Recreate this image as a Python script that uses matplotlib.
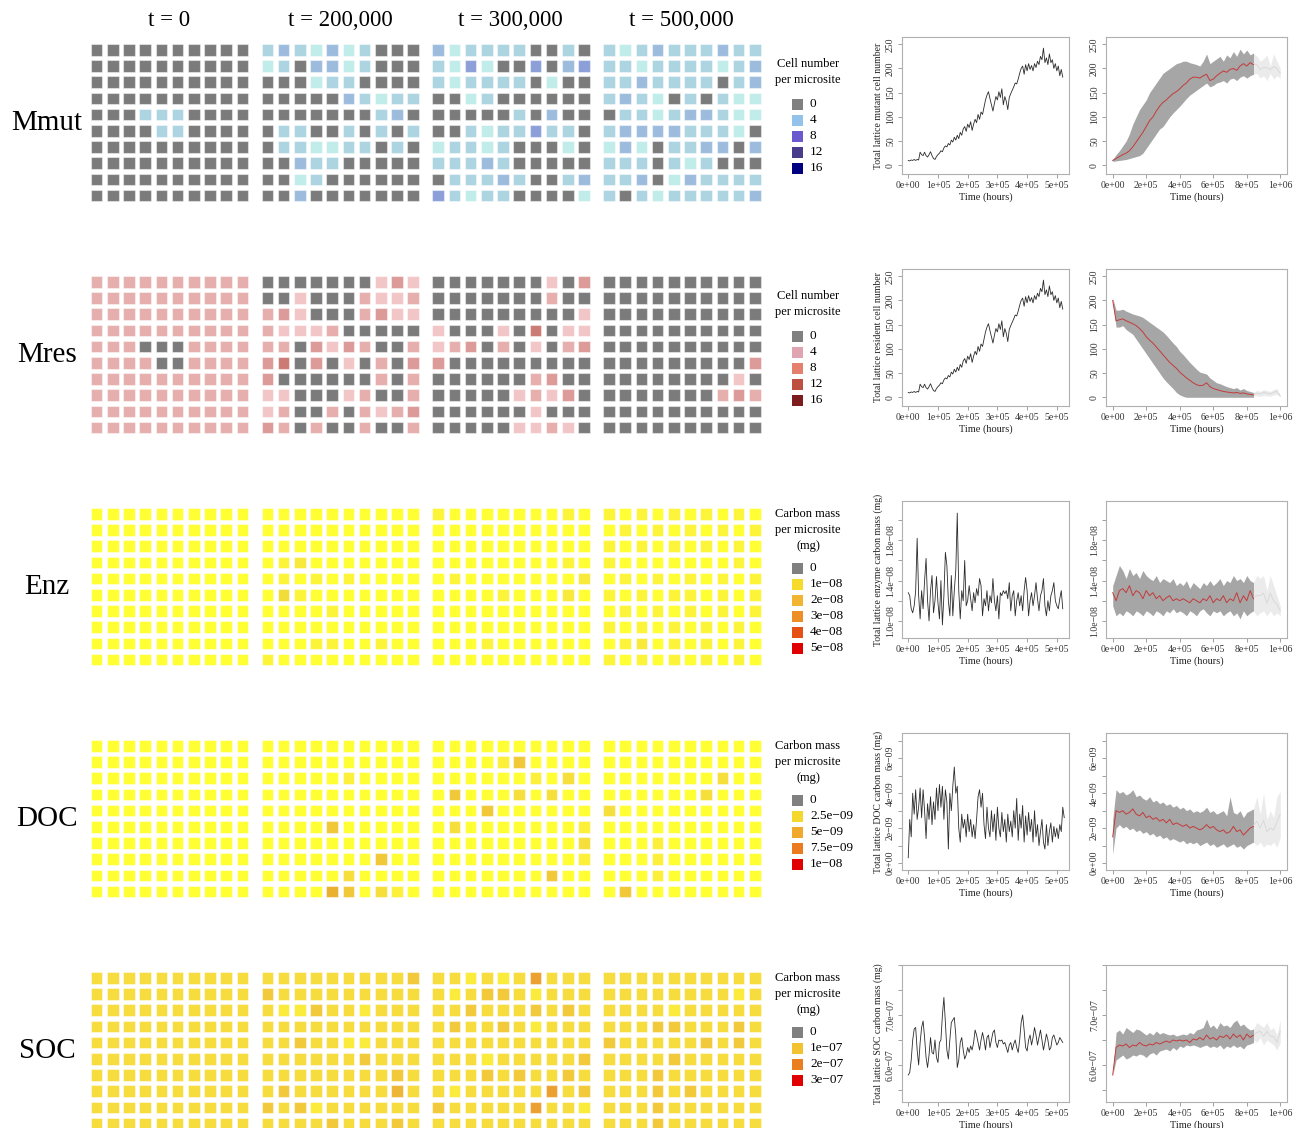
import numpy as np
import matplotlib
matplotlib.use("Agg")
import matplotlib.pyplot as plt
from matplotlib.patches import Rectangle

plt.rcParams['font.family'] = ['Liberation Serif', 'DejaVu Serif']

# ---------------------------------------------------------------- data
row_names = ["Mmut", "Mres", "Enz", "DOC", "SOC"]
time_titles = ["t = 0", "t = 200,000", "t = 300,000", "t = 500,000"]

# lattice snapshots: one digit per microsite, indexing the row palette
mmut_grids = [
    ["0000000000", "0000000000", "0000000000", "0000000000", "0002220000",
     "0000220000", "0000000000", "0000000000", "0000000000", "0000000000"],
    ["2321312000", "1203312000", "0001220000", "0000032122", "0000000230",
     "0220020202", "0221122020", "0032200000", "0012000000", "0030000000"],
    ["3122220020", "2141004034", "2122220100", "0012000000", "0000020300",
     "0021224220", "1221200010", "2223200000", "0222320023", "4212200001"],
    ["2123222322", "2212222123", "2232222023", "2321020211", "0221233211",
     "2333322210", "1310223303", "2220212000", "2230132222", "2021222223"],
]
mres_grids = [
    ["2222222222", "2222222222", "2222222222", "2222222222", "2220002222",
     "2222002222", "2222222222", "2222222222", "2222222222", "2222222222"],
    ["0000000131", "0010002112", "2310002311", "2111200000", "2203132002",
     "3403010203", "3000000202", "1100012002", "1200202123", "3202002002"],
    ["0000000103", "0000000200", "0000000001", "1000104011", "1230201023",
     "3000000000", "0000002300", "0000012130", "0000001000", "0000011210"],
    ["0000000000", "0000000000", "0000000000", "0000000000", "0000000000",
     "0000000003", "0000000010", "0000000232", "0000000000", "0000000000"],
]
enz_grids = [
    ["0000000000"] * 10,
    ["0000000000", "0000000000", "0000000000", "0120000000", "0101010000",
     "0310000000", "0000100000", "0000000000", "0001100100", "1000000000"],
    ["1000000010", "0000000000", "0000000000", "0000000010", "0100000002",
     "0000100020", "0000000000", "0000000000", "0001000000", "0000000000"],
    ["1010101010", "0101010101", "1010101010", "1000000010", "0101010101",
     "1010110101", "0101010101", "1010101010", "0120101010", "1010101010"],
]
doc_grids = [
    ["0000000000"] * 10,
    ["0000000000", "0000000000", "0000010000", "0000000000", "0000000000",
     "0000300000", "0000000000", "0000000300", "0000020000", "0000430210"],
    ["0000000000", "0000130000", "0000001020", "0300020200", "0003000000",
     "0200000001", "0000000002", "0000000001", "0000000300", "0000000000"],
    ["0000000000", "0000000000", "0000000200", "0000002000", "2000000000",
     "0000000000", "0001000000", "0001000000", "0001000000", "0300000000"],
]
soc_grids = [
    ["1111111111"] * 10,
    ["1111111112", "2111111111", "1002110111", "1111111111", "1121100111",
     "1111112111", "1111111121", "1211111131", "2120111111", "1111211121"],
    ["1101014111", "1012210111", "1121112121", "1211210111", "1111111111",
     "1110111112", "1112121121", "1011111412", "2111114110", "1111111111"],
    ["1111111111", "1111111101", "1111011111", "1112211121", "2111112121",
     "1111211111", "1112111111", "1112121111", "1112111111", "1112111111"],
]

mmut_palette = ['#7b7b7b', '#c0ece9', '#acd5e1', '#9dbcdd', '#8d9fd9']
mres_palette = ['#7b7b7b', '#f2c6c6', '#e6afae', '#dc9a98', '#cc7a74']
enz_palette = ['#ffff33', '#fcf439', '#f8e93a', '#f2dc38']
doc_palette = ['#ffff33', '#fcf03a', '#f6df3a', '#f0c838', '#eab030']
soc_palette = ['#fbeb3b', '#f6dc3c', '#f1c93a', '#eeb636', '#eba030']

# legends
cell_title = ["Cell number", "per microsite"]
carbon_title = ["Carbon mass", "per microsite", "(mg)"]
mmut_leg_labels = ["0", "4", "8", "12", "16"]
mmut_leg_colors = ['#808080', '#93c3ea', '#6a5acd', '#473d8b', '#000080']
mres_leg_labels = ["0", "4", "8", "12", "16"]
mres_leg_colors = ['#808080', '#e0a3b2', '#e5806f', '#bd5040', '#7d1c1c']
enz_leg_labels = ["0", "1e\u221208", "2e\u221208", "3e\u221208", "4e\u221208", "5e\u221208"]
enz_leg_colors = ['#808080', '#f6da2c', '#f2b532', '#ee8e26', '#e65014', '#e00000']
doc_leg_labels = ["0", "2.5e\u221209", "5e\u221209", "7.5e\u221209", "1e\u221208"]
doc_leg_colors = ['#808080', '#f5d82e', '#f0a92a', '#eb7b1e', '#e00000']
soc_leg_labels = ["0", "1e\u221207", "2e\u221207", "3e\u221207"]
soc_leg_colors = ['#808080', '#f2c230', '#ea7f1f', '#e00000']

# single-run lattice totals, one value every 5,000 hours
run_step = 5000
cells_total = [
    10, 9, 11, 10, 12, 10, 12, 11, 27, 22,
    20, 27, 20, 17, 22, 28, 20, 14, 12, 18,
    22, 25, 30, 28, 36, 40, 38, 45, 42, 52,
    48, 58, 52, 62, 55, 68, 62, 75, 80, 70,
    85, 78, 90, 72, 85, 95, 88, 105, 95, 110,
    105, 120, 135, 145, 152, 138, 125, 112, 128, 142,
    135, 152, 140, 158, 125, 142, 132, 115, 140, 148,
    155, 162, 170, 168, 178, 190, 200, 205, 188, 208,
    195, 210, 198, 206, 195, 210, 202, 215, 208, 225,
    218, 242, 212, 222, 208, 230, 212, 218, 200, 210,
    195, 205, 185, 198, 182]
enz_total = [  # x 1e-8 mg
    1.28, 1.25, 1.12, 1.08, 1.15, 1.30, 1.82, 1.25, 1.02, 1.30,
    1.12, 1.40, 1.62, 1.20, 1.00, 1.30, 1.45, 1.08, 1.20, 1.44,
    1.18, 1.02, 1.40, 0.96, 1.25, 1.68, 1.55, 1.20, 1.05, 1.45,
    1.05, 1.30, 1.50, 2.07, 1.30, 1.02, 1.30, 1.20, 1.60, 1.15,
    1.20, 1.35, 1.22, 1.10, 1.28, 1.18, 1.32, 1.25, 1.42, 1.35,
    1.05, 1.22, 1.15, 1.30, 1.10, 1.25, 1.18, 1.42, 1.20, 1.10,
    1.25, 1.02, 1.28, 1.25, 1.30, 1.27, 1.30, 1.22, 1.38, 1.10,
    1.25, 1.30, 1.05, 1.20, 1.28, 1.15, 1.25, 1.10, 1.30, 1.43,
    1.30, 1.05, 1.20, 1.28, 1.15, 1.25, 1.38, 1.22, 1.10, 1.25,
    1.30, 1.42, 1.15, 1.05, 1.20, 1.10, 1.25, 1.30, 1.38, 1.20,
    1.15, 1.12, 1.22, 1.30, 1.12]
doc_total = [  # x 1e-9 mg
    0.3, 2.5, 1.5, 4.0, 2.8, 4.2, 2.5, 3.2, 4.3, 2.6,
    4.2, 3.0, 1.4, 3.4, 2.5, 3.8, 2.2, 3.5, 2.5, 4.3,
    3.0, 4.5, 3.2, 4.4, 2.5, 4.2, 3.5, 0.8, 4.0, 3.0,
    4.4, 5.5, 4.0, 4.4, 2.0, 1.2, 2.8, 2.0, 2.5, 1.5,
    2.8, 1.8, 2.5, 1.5, 2.2, 1.4, 2.5, 3.8, 4.2, 3.2,
    4.0, 2.2, 1.4, 3.2, 2.0, 1.5, 3.0, 1.8, 2.8, 1.3,
    3.2, 2.0, 1.5, 2.9, 1.8, 2.5, 1.2, 2.8, 1.8, 2.4,
    1.5, 3.0, 2.0, 3.7, 1.3, 2.8, 2.0, 3.3, 1.2, 2.7,
    1.6, 2.9, 1.8, 2.5, 1.2, 3.0, 1.5, 2.2, 1.0, 1.8,
    2.5, 1.2, 0.8, 2.2, 1.0, 1.8, 2.3, 1.2, 2.1, 1.5,
    2.0, 1.4, 2.2, 1.8, 3.2, 2.6]
soc_total = [  # x 1e-7 mg
    5.80, 5.85, 6.10, 6.50, 6.72, 6.75, 6.30, 6.00, 6.45, 6.75,
    6.88, 6.55, 6.15, 5.95, 6.20, 6.55, 6.25, 6.22, 6.50, 6.15,
    6.05, 6.45, 6.50, 7.00, 7.35, 6.85, 6.30, 6.12, 6.50, 6.85,
    6.90, 6.95, 6.60, 5.95, 6.10, 6.45, 6.55, 6.30, 6.12, 6.20,
    6.35, 6.25, 6.38, 6.30, 6.45, 6.70, 6.60, 6.45, 6.30, 6.50,
    6.65, 6.50, 6.30, 6.55, 6.60, 6.35, 6.50, 6.65, 6.70, 6.45,
    6.35, 6.50, 6.48, 6.50, 6.42, 6.45, 6.35, 6.25, 6.40, 6.45,
    6.30, 6.42, 6.50, 6.35, 6.25, 6.50, 6.85, 7.00, 6.70, 6.35,
    6.28, 6.50, 6.60, 6.40, 6.55, 6.75, 6.60, 6.40, 6.55, 6.70,
    6.50, 6.30, 6.45, 6.62, 6.50, 6.30, 6.35, 6.55, 6.60, 6.50,
    6.40, 6.45, 6.55, 6.50, 6.45]

# ensemble summaries, one value every 20,000 hours (mean, lower, upper)
ens_step = 20000
mmut_mean = [10, 14, 18, 22, 25, 30, 38, 48, 58, 68, 80, 92, 100, 112, 122, 130,
             135, 142, 148, 152, 158, 165, 170, 178, 182, 182, 180, 185, 188, 175,
             178, 185, 190, 195, 192, 198, 200, 196, 205, 210, 205, 212, 208]
mmut_low = [8, 9, 10, 11, 12, 14, 16, 18, 20, 25, 35, 45, 55, 65, 75, 80, 90, 100,
            108, 115, 122, 130, 138, 145, 150, 155, 160, 165, 170, 162, 165, 170,
            172, 175, 170, 178, 180, 175, 182, 185, 180, 185, 188]
mmut_high = [12, 22, 30, 40, 50, 65, 85, 100, 115, 125, 135, 150, 160, 170, 180, 190,
             195, 200, 205, 210, 212, 215, 215, 212, 210, 208, 205, 215, 230, 210,
             215, 220, 225, 215, 228, 222, 235, 225, 240, 230, 238, 228, 232]
mres_mean = [200, 158, 160, 162, 158, 155, 152, 148, 142, 135, 125, 118, 112, 104,
             96, 88, 80, 72, 66, 60, 52, 46, 40, 35, 30, 26, 24, 25, 30, 22, 18, 16,
             14, 12, 11, 10, 9, 10, 8, 9, 7, 6, 5]
mres_low = [200, 145, 145, 148, 140, 135, 130, 120, 110, 100, 90, 80, 70, 60, 50, 40,
            32, 25, 18, 10, 5, 2, 0, 0, 0, 0, 0, 0, 0, 0, 0, 0, 0, 0, 0, 0, 0, 0, 0,
            0, 0, 0, 0]
mres_high = [205, 180, 180, 182, 178, 175, 172, 170, 168, 165, 160, 155, 150, 145,
             140, 135, 128, 120, 112, 105, 95, 88, 80, 72, 65, 58, 52, 50, 48, 40, 35,
             30, 28, 25, 22, 20, 18, 20, 15, 18, 14, 12, 10]
enz_mean = [1.28, 1.20, 1.30, 1.32, 1.28, 1.35, 1.25, 1.30, 1.28, 1.22, 1.30, 1.25,
            1.28, 1.22, 1.25, 1.20, 1.23, 1.25, 1.20, 1.22, 1.20, 1.22, 1.20, 1.18,
            1.22, 1.20, 1.18, 1.22, 1.20, 1.25, 1.18, 1.22, 1.20, 1.25, 1.18, 1.22,
            1.20, 1.28, 1.18, 1.25, 1.20, 1.30, 1.22]
enz_low = [1.15, 1.05, 1.08, 1.05, 1.10, 1.08, 1.05, 1.10, 1.08, 1.05, 1.10, 1.08,
           1.05, 1.10, 1.08, 1.05, 1.10, 1.08, 1.12, 1.08, 1.10, 1.08, 1.05, 1.10,
           1.08, 1.05, 1.10, 1.12, 1.08, 1.05, 1.10, 1.08, 1.10, 1.05, 1.08, 1.10,
           1.05, 1.08, 1.02, 1.10, 1.05, 1.08, 1.10]
enz_high = [1.35, 1.45, 1.55, 1.50, 1.42, 1.52, 1.45, 1.48, 1.42, 1.50, 1.45, 1.42,
            1.40, 1.45, 1.38, 1.42, 1.40, 1.38, 1.42, 1.35, 1.38, 1.35, 1.40, 1.32,
            1.38, 1.35, 1.32, 1.38, 1.35, 1.40, 1.35, 1.38, 1.42, 1.35, 1.40, 1.38,
            1.45, 1.40, 1.42, 1.38, 1.45, 1.40, 1.38]
doc_mean = [1.5, 3.0, 2.9, 3.0, 2.8, 2.9, 3.1, 2.8, 2.7, 2.9, 2.6, 2.7, 2.5, 2.6,
            2.4, 2.5, 2.3, 2.5, 2.2, 2.3, 2.2, 2.1, 2.2, 2.0, 2.1, 2.0, 1.9, 2.0,
            2.2, 2.0, 2.1, 1.9, 1.8, 1.9, 1.7, 1.8, 2.1, 1.8, 1.9, 1.6, 1.8, 2.0, 2.1]
doc_low = [0.5, 2.0, 2.2, 2.0, 2.1, 1.9, 2.0, 1.8, 1.9, 1.7, 1.8, 1.6, 1.7, 1.5,
           1.6, 1.4, 1.5, 1.3, 1.4, 1.3, 1.2, 1.3, 1.1, 1.2, 1.1, 1.2, 1.0, 1.1,
           1.2, 1.0, 1.1, 0.9, 1.0, 1.1, 0.9, 1.0, 1.1, 0.9, 1.0, 0.8, 1.0, 1.1, 1.2]
doc_high = [2.5, 4.2, 4.0, 4.1, 3.9, 4.0, 4.2, 3.8, 3.9, 3.7, 3.6, 3.8, 3.5, 3.6,
            3.4, 3.5, 3.3, 3.4, 3.2, 3.3, 3.1, 3.2, 3.0, 3.1, 2.9, 3.0, 2.9, 3.0,
            3.2, 2.9, 3.0, 2.8, 2.9, 3.0, 2.7, 3.8, 2.9, 2.8, 3.0, 2.6, 2.9, 3.0, 3.1]
soc_mean = [5.80, 6.35, 6.40, 6.38, 6.42, 6.35, 6.40, 6.38, 6.45, 6.40, 6.38, 6.42,
            6.40, 6.45, 6.42, 6.45, 6.48, 6.45, 6.50, 6.48, 6.50, 6.48, 6.50, 6.45,
            6.52, 6.50, 6.55, 6.50, 6.60, 6.52, 6.55, 6.50, 6.58, 6.55, 6.60, 6.52,
            6.62, 6.55, 6.60, 6.50, 6.62, 6.55, 6.60]
soc_low = [5.80, 6.10, 6.15, 6.20, 6.12, 6.15, 6.20, 6.18, 6.22, 6.20, 6.15, 6.22,
           6.25, 6.20, 6.28, 6.30, 6.32, 6.28, 6.35, 6.30, 6.38, 6.35, 6.40, 6.38,
           6.40, 6.38, 6.35, 6.38, 6.40, 6.35, 6.38, 6.35, 6.40, 6.32, 6.38, 6.35,
           6.40, 6.35, 6.38, 6.32, 6.40, 6.42, 6.45]
soc_high = [5.80, 6.65, 6.70, 6.62, 6.75, 6.70, 6.65, 6.72, 6.70, 6.65, 6.60, 6.65,
            6.60, 6.68, 6.62, 6.65, 6.62, 6.60, 6.62, 6.58, 6.60, 6.62, 6.60, 6.65,
            6.62, 6.70, 6.72, 6.75, 6.92, 6.75, 6.80, 6.72, 6.85, 6.78, 6.80, 6.75,
            6.85, 6.90, 6.78, 6.82, 6.75, 6.70, 6.72]

# sparse late runs (from 840,000 h to 1,000,000 h)
tail_start = 840000
mmut_tail_low = [188, 190, 180, 185, 175, 190, 178, 185, 180]
mmut_tail_high = [232, 225, 215, 220, 228, 205, 230, 215, 200]
mres_tail_low = [2, 3, 2, 4, 3, 2, 5, 6, 1]
mres_tail_high = [10, 14, 12, 16, 14, 12, 16, 18, 4]
enz_tail_low = [1.10, 1.05, 1.08, 1.10, 1.05, 1.10, 1.05, 1.08, 1.05]
enz_tail_high = [1.38, 1.45, 1.42, 1.45, 1.30, 1.45, 1.35, 1.25, 1.15]
doc_tail_low = [1.2, 1.0, 1.2, 0.9, 1.1, 1.0, 1.2, 0.9, 1.5]
doc_tail_high = [3.1, 3.8, 2.8, 4.0, 2.5, 3.0, 2.6, 3.8, 4.1]
soc_tail_low = [6.50, 6.45, 6.55, 6.40, 6.50, 6.45, 6.40, 6.30, 6.45]
soc_tail_high = [6.72, 6.85, 6.80, 6.75, 6.85, 6.70, 6.75, 6.60, 6.90]

# ---------------------------------------------------------------- layout
W, H = 1300, 1128
fig = plt.figure(figsize=(W / 100, H / 100), dpi=100)


def px_axes(x0, y0, x1, y1):
    return fig.add_axes([x0 / W, 1 - y1 / H, (x1 - x0) / W, (y1 - y0) / H])


ROW_DY = 232
PITCH = 16.2
GRID_X = [90.7 + 170.8 * j for j in range(4)]
GRID_Y = 44.0


def draw_lattice(ax, levels, palette):
    for r, row in enumerate(levels):
        for c, ch in enumerate(row):
            ax.add_patch(Rectangle((c - 0.36, r - 0.36), 0.72, 0.72,
                                   facecolor=palette[int(ch)],
                                   edgecolor=(1, 1, 1, 0.45), linewidth=0.8))
    ax.set_xlim(-0.5, 9.5)
    ax.set_ylim(9.5, -0.5)
    ax.axis('off')


all_grids = [mmut_grids, mres_grids, enz_grids, doc_grids, soc_grids]
all_palettes = [mmut_palette, mres_palette, enz_palette, doc_palette, soc_palette]
for i, (grids, pal) in enumerate(zip(all_grids, all_palettes)):
    top = GRID_Y + ROW_DY * i
    for j, g in enumerate(grids):
        x0 = GRID_X[j] - 0.14 * PITCH
        y0 = top - 0.14 * PITCH
        ax = px_axes(x0, y0, x0 + 10 * PITCH, y0 + 10 * PITCH)
        draw_lattice(ax, g, pal)

# ---------------------------------------------------------------- time series
LEFT_BOX = (902, 1069)
RIGHT_BOX = (1106, 1287)
BOX_TOP, BOX_BOT = 37, 174

left_xticks = [0, 100000, 200000, 300000, 400000, 500000]
left_xlabels = ["0e+00", "1e+05", "2e+05", "3e+05", "4e+05", "5e+05"]
right_xticks = [0, 200000, 400000, 600000, 800000, 1000000]
right_xlabels = ["0e+00", "2e+05", "4e+05", "6e+05", "8e+05", "1e+06"]

row_specs = [
    dict(run=cells_total, mean=mmut_mean, low=mmut_low, high=mmut_high,
         tlow=mmut_tail_low, thigh=mmut_tail_high, scale=1.0,
         ylim=(-18, 265), yticks=[0, 50, 100, 150, 200, 250],
         ylabels=["0", "50", "100", "150", "200", "250"],
         ylabel="Total lattice mutant cell number"),
    dict(run=cells_total, mean=mres_mean, low=mres_low, high=mres_high,
         tlow=mres_tail_low, thigh=mres_tail_high, scale=1.0,
         ylim=(-18, 265), yticks=[0, 50, 100, 150, 200, 250],
         ylabels=["0", "50", "100", "150", "200", "250"],
         ylabel="Total lattice resident cell number"),
    dict(run=enz_total, mean=enz_mean, low=enz_low, high=enz_high,
         tlow=enz_tail_low, thigh=enz_tail_high, scale=1e-8,
         ylim=(0.83e-8, 2.19e-8), yticks=[1.0e-8, 1.2e-8, 1.4e-8, 1.6e-8, 1.8e-8, 2.0e-8],
         ylabels=["1.0e\u221208", "", "1.4e\u221208", "", "1.8e\u221208", ""],
         ylabel="Total lattice enzyme carbon mass (mg)"),
    dict(run=doc_total, mean=doc_mean, low=doc_low, high=doc_high,
         tlow=doc_tail_low, thigh=doc_tail_high, scale=1e-9,
         ylim=(-0.4e-9, 7.45e-9), yticks=[i * 1e-9 for i in range(8)],
         ylabels=["0e+00", "", "2e\u221209", "", "4e\u221209", "", "6e\u221209", ""],
         ylabel="Total lattice DOC carbon mass (mg)"),
    dict(run=soc_total, mean=soc_mean, low=soc_low, high=soc_high,
         tlow=soc_tail_low, thigh=soc_tail_high, scale=1e-7,
         ylim=(5.26e-7, 8.0e-7), yticks=[5.5e-7, 6.0e-7, 6.5e-7, 7.0e-7, 7.5e-7, 8.0e-7],
         ylabels=["", "6.0e\u221207", "", "7.0e\u221207", "", ""],
         ylabel="Total lattice SOC carbon mass (mg)"),
]


def style_axes(ax, xlim, xticks, xlabels, spec):
    ax.set_xlim(*xlim)
    ax.set_ylim(*spec['ylim'])
    ax.set_xticks(xticks)
    ax.set_xticklabels(xlabels)
    ax.set_yticks(spec['yticks'])
    ax.set_yticklabels(spec['ylabels'], rotation=90, va='center')
    for s in ax.spines.values():
        s.set_color('#b0b0b0')
        s.set_linewidth(0.8)
    ax.tick_params(length=3, width=0.6, color='#909090', labelsize=7,
                   labelcolor='#333333', pad=2)
    ax.set_xlabel("Time (hours)", fontsize=7.5, labelpad=2, color='#222222')


for i, spec in enumerate(row_specs):
    top = BOX_TOP + ROW_DY * i
    bot = BOX_BOT + ROW_DY * i
    sc = spec['scale']

    # single run
    axl = px_axes(LEFT_BOX[0], top, LEFT_BOX[1], bot)
    run = np.asarray(spec['run']) * sc
    t_run = np.arange(len(run)) * run_step
    axl.plot(t_run, run, color='#2b2b2b', lw=0.6)
    style_axes(axl, (-21000, 541000), left_xticks, left_xlabels, spec)
    axl.set_ylabel(spec['ylabel'], fontsize=7, labelpad=2, color='#222222')

    # ensemble
    axr = px_axes(RIGHT_BOX[0], top, RIGHT_BOX[1], bot)
    mean = np.asarray(spec['mean']) * sc
    low = np.asarray(spec['low']) * sc
    high = np.asarray(spec['high']) * sc
    t_ens = np.arange(len(mean)) * ens_step
    tlow = np.asarray(spec['tlow']) * sc
    thigh = np.asarray(spec['thigh']) * sc
    t_tail = tail_start + np.arange(len(tlow)) * ens_step
    axr.fill_between(t_tail, tlow, thigh, color='#ebebeb', lw=0)
    axr.plot(t_tail, (tlow + thigh) / 2, color='#d6d6d6', lw=0.6)
    axr.fill_between(t_ens, low, high, color='#a6a6a6', lw=0)
    axr.plot(t_ens, mean, color='#c43a3a', lw=0.7)
    style_axes(axr, (-40000, 1040000), right_xticks, right_xlabels, spec)

# ---------------------------------------------------------------- text overlay
ov = fig.add_axes([0, 0, 1, 1])
ov.set_xlim(0, W)
ov.set_ylim(H, 0)
ov.axis('off')

for j, t in enumerate(time_titles):
    ov.text(GRID_X[j] + 4.85 * PITCH, 20, t, ha='center', va='center', fontsize=16.5)
for i, name in enumerate(row_names):
    ov.text(47, GRID_Y + ROW_DY * i + 4.85 * PITCH, name, ha='center', va='center',
            fontsize=21)

legend_specs = [
    (cell_title, mmut_leg_labels, mmut_leg_colors),
    (cell_title, mres_leg_labels, mres_leg_colors),
    (carbon_title, enz_leg_labels, enz_leg_colors),
    (carbon_title, doc_leg_labels, doc_leg_colors),
    (carbon_title, soc_leg_labels, soc_leg_colors),
]
for i, (title, labels, colors) in enumerate(legend_specs):
    base = ROW_DY * i
    first_entry = 104 + base
    title_top = first_entry - 22 - 16 * (len(title) - 1)
    if len(title) == 2:
        title_top -= 2
    for k, line in enumerate(title):
        ov.text(808, title_top + 16 * k, line, ha='center', va='center', fontsize=9)
    for k, (lab, col) in enumerate(zip(labels, colors)):
        yc = first_entry + 16 * k
        ov.add_patch(Rectangle((792, yc - 5.5), 11, 11, facecolor=col, edgecolor='none'))
        ov.text(810, yc, lab, ha='left', va='center', fontsize=9.5)

fig.savefig("out.png", dpi=100)
